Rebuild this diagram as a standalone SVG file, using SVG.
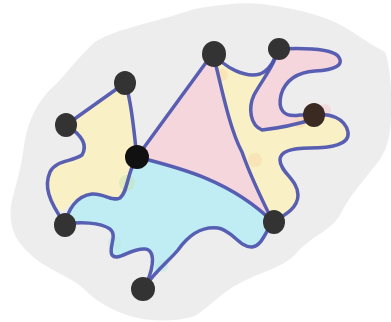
<svg xmlns="http://www.w3.org/2000/svg" width="391" height="322" viewBox="0 0 391 322">
<style>
.edge{fill:none;stroke:#4b52ae;stroke-width:3.5;stroke-linecap:round;stroke-linejoin:round;stroke-opacity:0.92}
.halo{fill:none;stroke:#ffffff;stroke-width:7;stroke-linecap:round;stroke-opacity:0.7}
.dot{fill:#333333}
</style>
<rect width="391" height="322" fill="#ffffff"/>
<path id="blob" fill="#eeeded" d="M200,8 C225,4 245,2 262,4 C290,8 310,12 330,20 C350,28 365,42 385,52 C392,70 392,110 390,130 C388,150 380,160 370,172 C360,185 350,195 340,215 C330,232 310,236 295,255 C282,268 260,272 240,283 C222,292 212,305 195,316 C175,322 150,322 130,316 C110,310 95,300 85,290 C70,275 45,270 28,252 C12,238 8,220 12,200 C16,185 22,165 24,145 C28,120 38,100 55,85 C68,72 80,55 95,42 C110,32 140,25 165,18 C180,14 190,10 200,8 Z"/>
<g id="regions">
<path fill="#faf0c6" d="M125,83 L66,125 C82,135 88,145 82,155 C72,162 56,160 50,172 C44,186 48,200 62,212 C70,205 76,196 92,194 C104,193 112,202 120,198 C128,192 127,172 137,157 C134,140 134,110 130,95 Z"/>
<path fill="#bfedf3" d="M137,157 C180,168 230,180 273,222 C265,232 262,246 252,247 C240,248 232,230 218,228 C200,226 188,236 178,250 C168,262 158,268 153,275 C155,262 158,250 145,249 C130,248 118,262 112,255 C108,248 118,236 110,229 C100,222 80,222 66,222 C68,210 76,196 92,194 C104,193 112,202 120,198 C128,192 127,172 137,157 Z"/>
<path fill="#f5d6dc" d="M137,157 L213,53 C222,90 230,130 242,152 C250,175 262,200 273,222 C230,180 180,168 137,157 Z"/>
<path fill="#faf0c6" d="M213,53 C225,68 245,78 260,74 C270,70 275,60 278,49 C275,65 262,80 254,95 C248,108 250,125 262,130 C280,128 295,125 312,120 C330,113 345,118 348,132 C350,145 330,148 310,148 C295,148 280,150 280,160 C280,172 298,180 298,195 C298,208 285,215 273,222 C262,200 250,175 242,152 C230,130 222,90 213,53 Z"/>
<path fill="#f5d6dc" d="M278,49 C300,48 330,48 338,56 C345,65 335,70 315,71 C298,72 285,80 281,95 C278,108 282,118 300,115 L312,116 C295,125 280,128 262,130 C250,125 248,108 254,95 C262,80 275,65 278,49 Z"/>
<circle cx="127" cy="183" r="8" fill="#c8e3ad" opacity="0.5"/>
<circle cx="115" cy="243" r="7" fill="#bfe8e6" opacity="0.6"/>
<circle cx="162" cy="266" r="6" fill="#bfe8e6" opacity="0.6"/>
<circle cx="255" cy="160" r="7" fill="#f7d8a8" opacity="0.5"/>
<circle cx="222" cy="75" r="6" fill="#f7d8a8" opacity="0.5"/>
<circle cx="300" cy="122" r="6" fill="#f7d8a8" opacity="0.5"/>
<circle cx="325" cy="110" r="6" fill="#f3cfd4" opacity="0.6"/>
</g>
<g id="connectors">
<path class="edge" d="M125,83 L66,125"/>
<path class="edge" d="M125,83 C132,100 134,135 137,157"/>
<path class="edge" d="M66,125 C82,135 88,145 82,155 C72,162 56,160 50,172 C44,186 48,200 65,224"/>
<path class="edge" d="M65,224 C68,210 76,196 92,194 C104,193 112,202 120,198 C128,192 127,172 137,157"/>
<path class="edge" d="M137,157 L213,53"/>
<path class="edge" d="M137,157 C180,168 230,180 273,222"/>
<path class="edge" d="M213,53 C222,90 230,130 242,152 C250,175 262,200 273,222"/>
<path class="edge" d="M213,53 C225,68 245,78 260,74 C270,70 275,60 278,49"/>
<path class="edge" d="M278,49 C300,48 330,48 338,56 C345,65 335,70 315,71 C298,72 285,80 281,95 C278,108 282,118 300,115 L314,115"/>
<path class="edge" d="M278,49 C275,65 262,80 254,95 C248,108 250,125 262,130 C280,128 295,125 314,119"/>
<path class="edge" d="M314,115 C330,113 345,118 348,132 C350,145 330,148 310,148 C295,148 280,150 280,160 C280,172 298,180 298,195 C298,208 285,215 273,222"/>
<path class="edge" d="M273,222 C265,232 262,246 252,247 C240,248 232,230 218,228 C200,226 188,236 178,250 C168,262 158,268 143,289"/>
<path class="edge" d="M143,289 C152,275 158,250 145,249 C130,248 118,262 112,255 C108,248 118,236 110,229 C100,222 80,222 65,224"/>
</g>
<g id="n1"><ellipse class="dot" cx="125" cy="83" rx="11" ry="12"/></g>
<g id="n2"><ellipse class="dot" cx="66" cy="125" rx="11" ry="12"/></g>
<g id="n3"><ellipse cx="137" cy="157" rx="12" ry="12" fill="#111"/></g>
<g id="n4"><ellipse class="dot" cx="214" cy="54" rx="12" ry="13"/></g>
<g id="n5"><ellipse class="dot" cx="279" cy="49" rx="11" ry="11"/></g>
<g id="n6"><ellipse cx="314" cy="115" rx="11" ry="12" fill="#3a2a22"/></g>
<g id="n7"><ellipse class="dot" cx="65" cy="225" rx="11" ry="12"/></g>
<g id="n8"><ellipse class="dot" cx="274" cy="222" rx="11" ry="12"/></g>
<g id="n9"><ellipse class="dot" cx="143" cy="289" rx="12" ry="12"/></g>
</svg>
